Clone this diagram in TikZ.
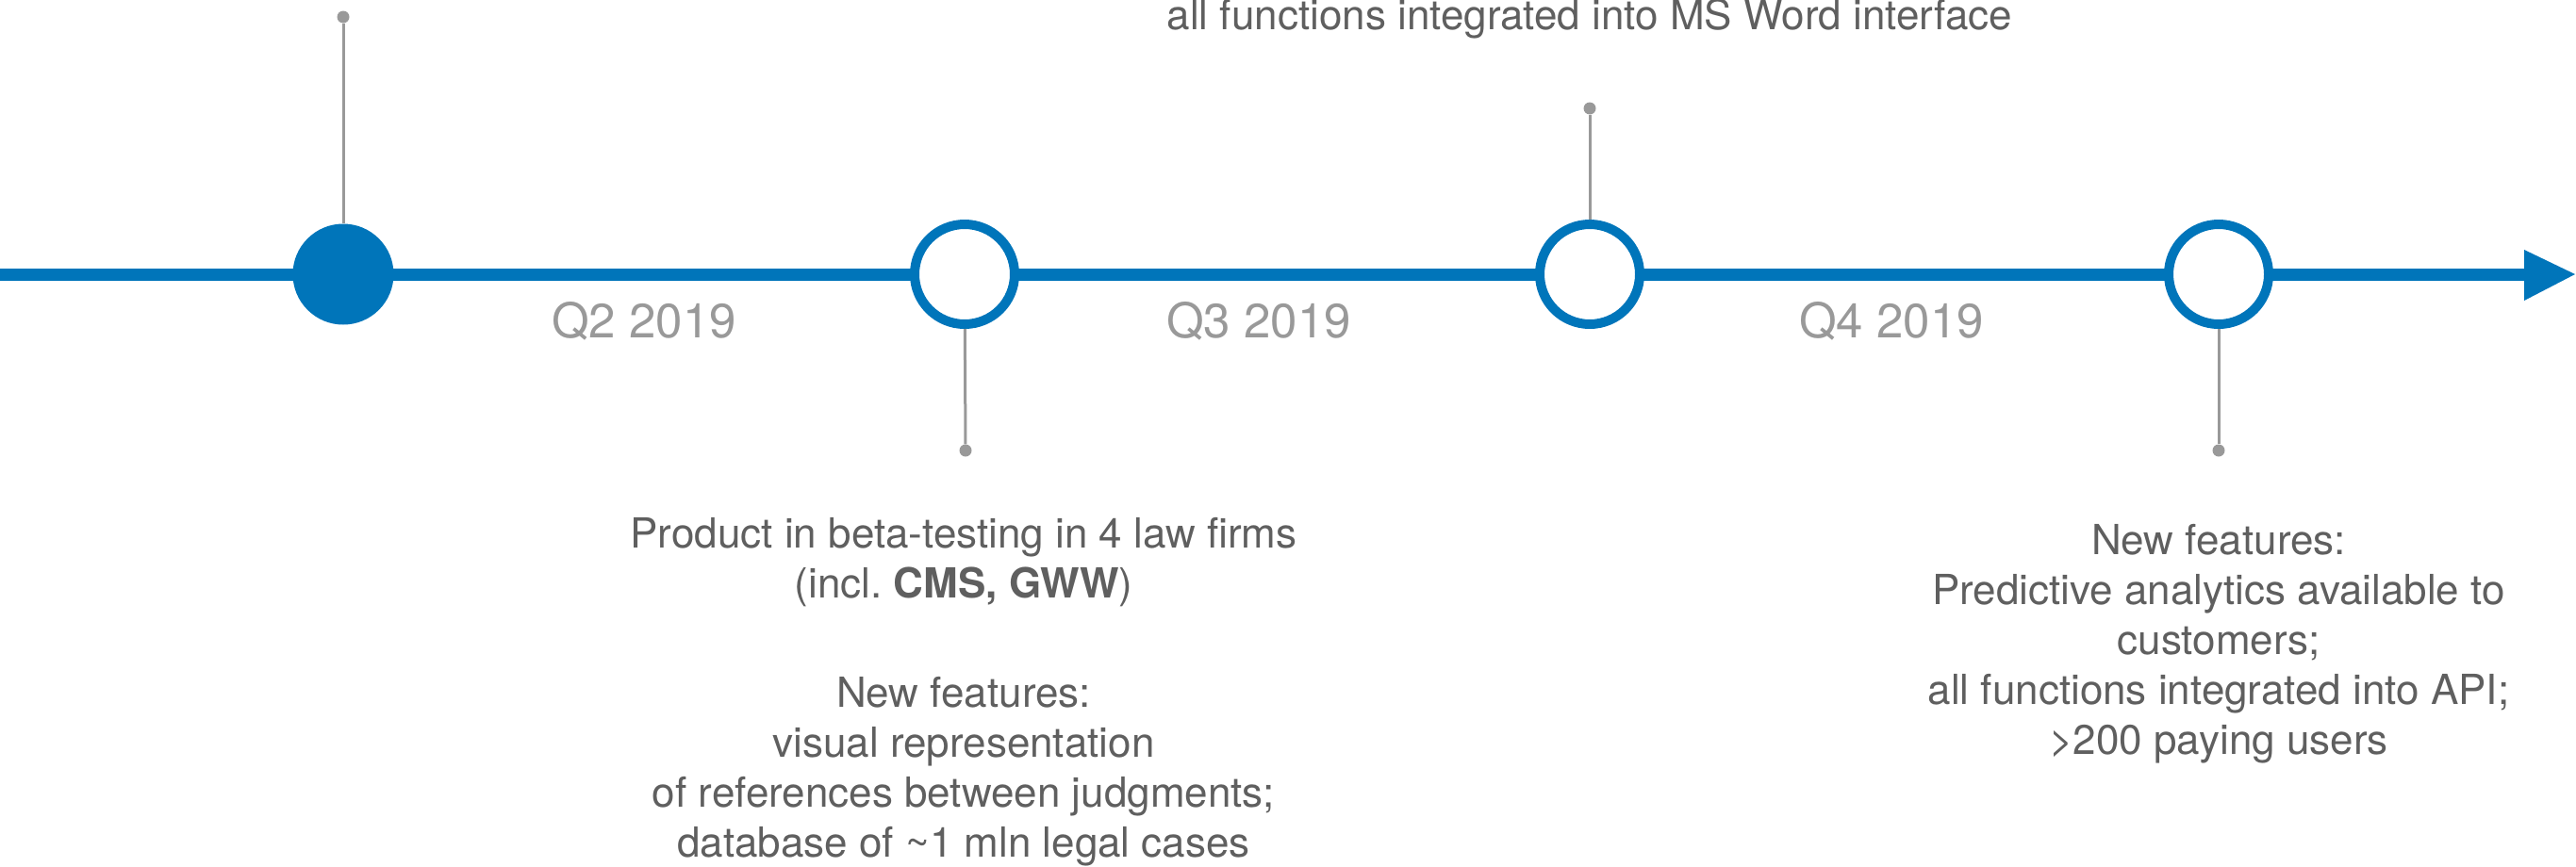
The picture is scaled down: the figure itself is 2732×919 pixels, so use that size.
\documentclass[tikz,border=0pt]{standalone}
\usepackage{fontspec}
\setmainfont{TeX Gyre Heros}
\definecolor{tlblue}{RGB}{0,117,186}
\definecolor{stickgray}{RGB}{153,153,153}
\definecolor{textgray}{RGB}{95,95,95}
\definecolor{qgray}{RGB}{153,153,153}
\frenchspacing
\begin{document}
\begin{tikzpicture}[x=1pt,y=-1pt,
  milestone/.style={circle, draw=tlblue, line width=10pt, fill=white, minimum size=106pt, inner sep=0pt},
  startpoint/.style={circle, fill=tlblue, minimum size=107pt, inner sep=0pt},
  dotend/.style={circle, fill=stickgray, minimum size=13pt, inner sep=0pt},
  stick/.style={draw=stickgray, line width=3pt},
  mainline/.style={draw=tlblue, line width=13pt},
  qlabel/.style={text=qgray, font=\fontsize{51}{60}\selectfont, anchor=base, inner sep=0pt},
  desc/.style={text=textgray, font=\fontsize{44}{53}\selectfont, align=center, anchor=base, inner sep=0pt},
]
\useasboundingbox (0,0) rectangle (2732,919);
% main time axis
\coordinate (start) at (0,291);
\coordinate (headbase) at (2677,291);
\coordinate (tip) at (2731,291);
\draw[mainline] (start) -- (headbase);
\fill[tlblue] (2677,265) -- (tip) -- (2677,319) -- cycle;
% milestones
\node[startpoint] (m1) at (364,291) {};
\node[milestone] (m2) at (1023,291) {};
\node[milestone] (m3) at (1686,291) {};
\node[milestone] (m4) at (2353,291) {};
% stick ends
\node[dotend] (d1) at (364,18) {};
\node[dotend] (d2) at (1024,478) {};
\node[dotend] (d3) at (1686,115) {};
\node[dotend] (d4) at (2353,478) {};
\draw[stick] (d1) -- (m1);
\draw[stick] (m2) -- (d2);
\draw[stick] (d3) -- (m3);
\draw[stick] (m4) -- (d4);
% quarter labels
\node[qlabel] (q2) at (683,358) {Q2 2019};
\node[qlabel] (q3) at (1335,358) {Q3 2019};
\node[qlabel] (q4) at (2006,358) {Q4 2019};
% descriptions (base anchor = baseline of the last line)
\node[desc] (t3) at (1686,31) {all functions integrated into MS Word interface};
\node[desc] (t2) at (1022,909) {Product in beta-testing in 4 law firms\\
  (incl.\ \textbf{CMS, GWW})\\[63pt]
  New features:\\
  visual representation\\
  of references between judgments;\\
  database of \textasciitilde1 mln legal cases};
\node[desc] (t4) at (2353,800) {New features:\\
  Predictive analytics available to\\
  customers;\\
  all functions integrated into API;\\
  >200 paying users};
\end{tikzpicture}
\end{document}
